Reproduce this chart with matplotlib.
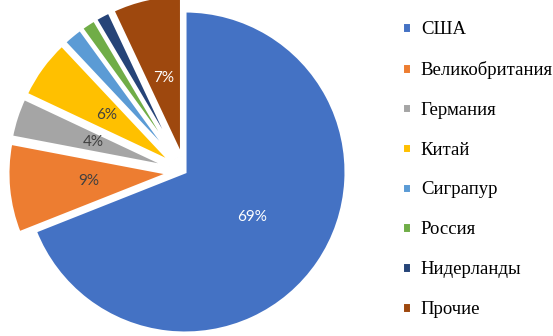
import matplotlib.pyplot as plt

# data
countries = ["США", "Великобритания", "Германия", "Китай",
             "Сиграпур", "Россия", "Нидерланды", "Прочие"]
shares = [69, 9, 4, 6, 2, 1.5, 1.5, 7]
colors = ["#4472C4", "#ED7D31", "#A5A5A5", "#FFC000",
          "#5B9BD5", "#70AD47", "#264478", "#9E480E"]
label_colors = ["white", "#404040", "#404040", "#404040",
                "white", "white", "white", "white"]
explode = [0, 0.1, 0.1, 0.1, 0.1, 0.1, 0.1, 0.1]

W, H = 553, 336
fig = plt.figure(figsize=(W / 100, H / 100), dpi=100)

# pie centre at (185, 164) px from bottom-left, radius 161 px
cx, cy, r = 185, 164, 161
L = 1.12
half = L * r
ax = fig.add_axes([(cx - half) / W, (cy - half) / H, 2 * half / W, 2 * half / H])


def pct(p):
    return f"{p:.0f}%" if p >= 3 else ""


wedges, texts, autotexts = ax.pie(
    shares, colors=colors, explode=explode, startangle=90, counterclock=False,
    autopct=pct, pctdistance=0.5, radius=1,
    wedgeprops={"edgecolor": "white", "linewidth": 2.2},
    textprops={"fontsize": 11, "family": "Lato"},
)
for t, c in zip(autotexts, label_colors):
    t.set_color(c)
ax.set_xlim(-L, L)
ax.set_ylim(-L, L)
ax.set_aspect("equal")
ax.axis("off")

fig.legend(wedges, countries, loc="upper left", bbox_to_anchor=(402 / W, 1 - 21 / H),
           frameon=False, prop={"family": "Liberation Serif", "size": 13.5},
           handlelength=0.5, handleheight=0.5, handletextpad=0.5,
           labelspacing=1.22, borderaxespad=0, borderpad=0)

fig.savefig("out.png", dpi=100)
